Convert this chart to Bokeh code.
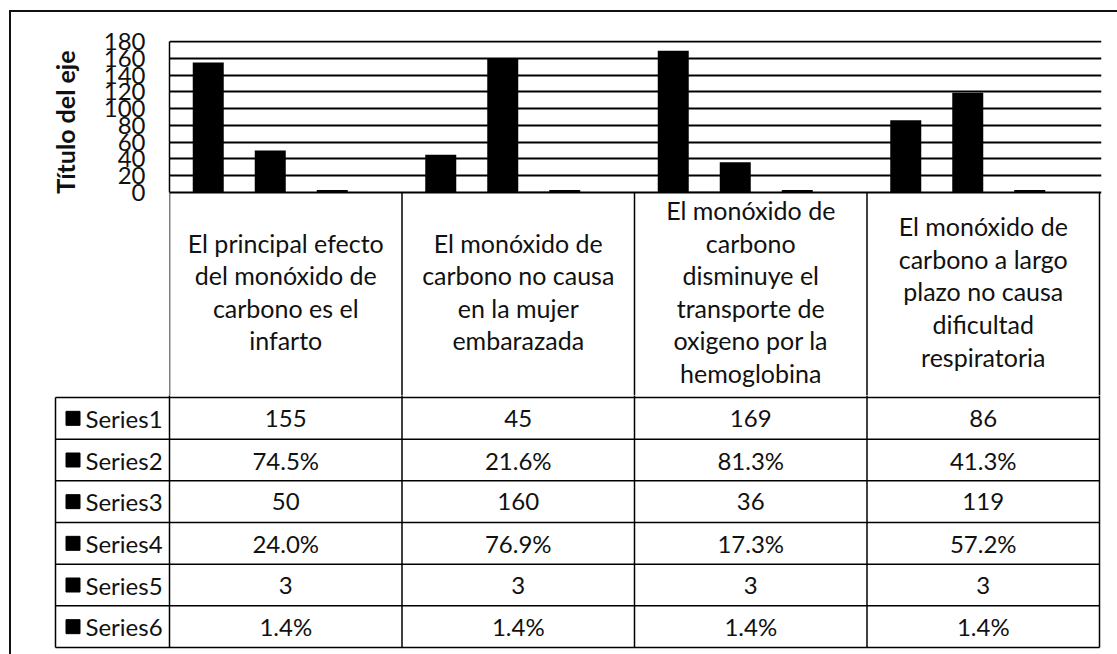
from bokeh.plotting import figure
from bokeh.layouts import column
from bokeh.models import Range1d, FixedTicker, ColumnDataSource, Title
from bokeh.transform import dodge
from bokeh.core.properties import value
from bokeh.embed import file_html
from bokeh.resources import INLINE

# ---------------- data ----------------
categories = [
    "El principal efecto\ndel monóxido de\ncarbono es el\ninfarto",
    "El monóxido de\ncarbono no causa\nen la mujer\nembarazada",
    "El monóxido de\ncarbono\ndisminuye el\ntransporte de\noxigeno por la\nhemoglobina",
    "El monóxido de\ncarbono a largo\nplazo no causa\ndificultad\nrespiratoria",
]
series_names = ["Series1", "Series2", "Series3", "Series4", "Series5", "Series6"]
series1 = [155, 45, 169, 86]
series2 = [0.745, 0.216, 0.813, 0.413]
series3 = [50, 160, 36, 119]
series4 = [0.240, 0.769, 0.173, 0.572]
series5 = [3, 3, 3, 3]
series6 = [0.014, 0.014, 0.014, 0.014]
series_is_percent = [False, True, False, True, False, True]
y_ticks = [0, 20, 40, 60, 80, 100, 120, 140, 160, 180]
axis_title = "Título del eje"

all_series = [series1, series2, series3, series4, series5, series6]

# ---------------- layout constants (page pixels) ----------------
FONT = "Lato"
TXT = "#111111"
N = len(categories)
BAR_W = 1.0 / (len(all_series) + 1.5)      # Excel gap width 150%
PX = 232.5                                   # pixels per category
PLOT_L = 169          # left edge of plot area / table body
Y0 = 192              # pixel row of value 0 (table top)
Y180 = 41             # pixel row of value 180
SPLIT = 395           # pixel row where the lower figure starts
PAGE_H = 654
CANVAS_X = 11         # after the 2px frame border
CANVAS_Y = 12
W = 1117 - CANVAS_X
XEND = N + 2 / PX
xc = [i + 0.5 for i in range(N)]
upp = (y_ticks[-1] - y_ticks[0]) / (Y0 - Y180)   # value units per pixel


def no_align(p):
    try:
        p.frame_align = False
    except Exception:
        pass


# ---------------- top chart (plot area + category header row) ----------------
p1 = figure(width=W, height=SPLIT - CANVAS_Y,
            x_range=Range1d(0, XEND),
            y_range=Range1d(-(SPLIT - Y0) * upp, y_ticks[-1] + 1 * upp),
            x_axis_location=None,
            output_backend="svg", toolbar_location=None,
            min_border_left=PLOT_L - CANVAS_X, min_border_right=1117 - 1101,
            min_border_top=(Y180 - 1) - CANVAS_Y, min_border_bottom=0)
no_align(p1)
p1.outline_line_color = None

yax = p1.yaxis[0]
yax.ticker = FixedTicker(ticks=y_ticks)
yax.bounds = (y_ticks[0], y_ticks[-1])
yax.minor_tick_line_color = None
yax.major_tick_line_color = None
yax.major_tick_out = 0
yax.major_tick_in = 0
yax.axis_line_color = "black"
yax.axis_line_width = 1.5
yax.major_label_standoff = 24
yax.major_label_text_font = FONT
yax.major_label_text_font_size = "24px"
yax.major_label_text_color = TXT
p1.ygrid.grid_line_color = "black"
p1.ygrid.grid_line_width = 2
p1.xgrid.visible = False

# axis title: a side title aligned to the top of the value axis
p1.add_layout(Title(text=axis_title, align="right", offset=10, standoff=42,
                    text_font=FONT, text_font_style="bold",
                    text_font_size="25px", text_color=TXT), "left")

for j, vals in enumerate(all_series):
    src = ColumnDataSource(dict(x=xc, top=vals))
    p1.vbar(x=dodge("x", (j - (len(all_series) - 1) / 2) * BAR_W, range=p1.x_range),
            top="top", bottom=0, width=BAR_W, source=src,
            fill_color="black", line_color=None)

# column separators of the header row
bounds = list(range(0, N + 1))
p1.segment(x0=bounds, y0=[-1000] * len(bounds), x1=bounds, y1=[0] * len(bounds),
           line_color="black", line_width=1.5)

# header texts (category names)
HEAD_CENTER = 291
p1.text(x=xc, y=[-(HEAD_CENTER - Y0) * upp] * N, text=categories,
        text_align="center", text_baseline="middle",
        text_font=value(FONT), text_font_size="25px",
        text_line_height=1.087, text_color=TXT)

# ---------------- data table rows ----------------
HEAD_H = 205
ROW_H = 250 / 6
LEG_L = -(PLOT_L - 55) / PX
x_start2 = -(PLOT_L - 52) / PX

p2 = figure(width=W, height=PAGE_H - SPLIT,
            x_range=Range1d(x_start2, XEND),
            y_range=Range1d(PAGE_H - Y0, SPLIT - Y0),
            x_axis_location=None, y_axis_location=None,
            output_backend="svg", toolbar_location=None,
            min_border_left=52 - CANVAS_X, min_border_right=1117 - 1101,
            min_border_top=0, min_border_bottom=0)
no_align(p2)
p2.outline_line_color = None
p2.xgrid.visible = False
p2.ygrid.visible = False

nrows = len(all_series)
row_lines = [HEAD_H + ROW_H * k for k in range(nrows + 1)]
row_centers = [HEAD_H + ROW_H * (k + 0.5) for k in range(nrows)]
table_bottom = row_lines[-1]

vx = list(range(0, N + 1))
p2.segment(x0=vx, y0=[0] * len(vx), x1=vx, y1=[table_bottom] * len(vx),
           line_color="black", line_width=1.5)
p2.segment(x0=[LEG_L], y0=[HEAD_H], x1=[LEG_L], y1=[table_bottom],
           line_color="black", line_width=1.5)
p2.segment(x0=[LEG_L] * len(row_lines), y0=row_lines,
           x1=[N] * len(row_lines), y1=row_lines,
           line_color="black", line_width=1.5)

for k, vals in enumerate(all_series):
    if series_is_percent[k]:
        labels = [f"{v * 100:.1f}%" for v in vals]
    else:
        labels = [f"{v:g}" for v in vals]
    p2.text(x=xc, y=[row_centers[k]] * N, text=labels,
            text_align="center", text_baseline="middle",
            text_font=value(FONT), text_font_size="24px", text_color=TXT)

p2.scatter(x=[-(PLOT_L - 72.5) / PX] * nrows, y=row_centers, marker="square",
           size=14, fill_color="black", line_color="black")
p2.text(x=[-(PLOT_L - 85) / PX] * nrows, y=row_centers, text=series_names,
        text_align="left", text_baseline="middle",
        text_font=value(FONT), text_font_size="24px", text_color=TXT)

layout = column(p1, p2, spacing=0,
                styles={"border-left": "2px solid #111", "border-top": "2px solid #111",
                        "margin-left": "9px", "margin-top": "10px"})

open("out.html", "w").write(file_html(layout, INLINE))
